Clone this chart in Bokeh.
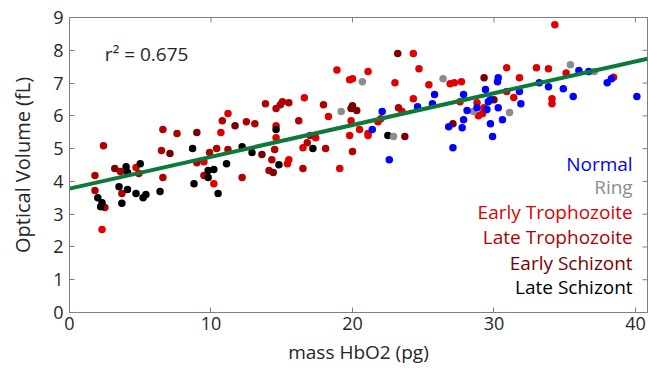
import math
from bokeh.plotting import figure
from bokeh.models import Range1d, FixedTicker, Label
from bokeh.embed import file_html
from bokeh.resources import INLINE

# ---- data ----
normal_x = [24.6, 25.8, 25.65, 22.1, 21.4, 26.8, 22.6, 30.3, 30.25, 36.0, 36.7, 38.3, 38.0, 40.1,
            33.2, 33.85, 34.9, 35.6, 31.8, 31.9, 29.4, 27.85, 28.1, 28.8, 29.5, 29.6, 29.75, 30.3,
            30.6, 29.75, 29.9, 27.85, 27.75, 27.1]
normal_y = [6.28, 6.65, 6.37, 6.13, 5.58, 5.67, 4.66, 7.16, 7.04, 7.38, 7.35, 7.13, 7.01, 6.59,
            7.01, 6.89, 6.83, 6.59, 6.74, 6.37, 6.80, 6.65, 6.16, 6.25, 6.19, 6.43, 6.49, 6.25,
            5.88, 5.76, 5.37, 5.88, 5.64, 5.03]

ring_x = [20.7, 26.4, 19.2, 22.9, 35.4, 37.1, 28.55, 31.1]
ring_y = [7.04, 7.13, 6.13, 5.37, 7.56, 7.35, 6.13, 6.10]

etroph_x = [9.5, 4.7, 10.2, 2.3, 16.6, 18.3, 11.2, 10.7, 14.6, 14.6, 17.4, 16.5, 15.5, 15.4,
            24.3, 24.7, 18.9, 21.1, 19.8, 20.0, 23.0, 25.4, 26.9, 24.3, 23.5, 19.9, 20.5, 19.8,
            21.1, 21.1, 21.8, 22.0, 19.1, 34.3, 27.2, 27.7, 30.9, 31.8, 33.0, 33.85, 35.1, 38.45,
            34.1, 34.1, 31.4, 30.9, 27.6, 28.8, 29.3, 28.9, 29.2]
etroph_y = [4.60, 4.42, 3.93, 2.53, 6.55, 5.98, 6.07, 5.49, 5.70, 5.33, 5.33, 5.03, 4.66, 4.54,
            7.90, 7.44, 7.40, 7.35, 7.10, 7.13, 7.01, 6.95, 6.98, 6.52, 6.13, 5.85, 5.58, 5.40,
            5.46, 5.40, 5.82, 5.91, 4.39, 8.78, 7.01, 7.04, 7.47, 7.16, 7.47, 7.44, 7.31, 7.18,
            6.52, 6.37, 6.56, 6.74, 6.43, 6.40, 6.25, 6.00, 6.07]

ltroph_x = [6.6, 7.6, 2.4, 6.5, 9.9, 9.0, 3.6, 4.9, 1.8, 6.6, 9.5, 3.7, 1.8, 2.5,
            13.85, 15.05, 14.9, 14.6, 15.5, 17.95, 10.8, 12.5, 13.1, 16.2, 17.0, 16.8, 18.1,
            10.4, 11.2, 14.5, 14.3, 16.5, 14.1, 12.2, 23.25, 20.0]
ltroph_y = [5.58, 5.46, 5.09, 4.94, 4.88, 4.57, 4.30, 4.24, 4.18, 4.12, 4.18, 3.63, 3.72, 3.20,
            6.37, 6.43, 6.34, 6.22, 6.40, 6.34, 5.85, 5.82, 5.76, 5.85, 5.40, 5.18, 5.00,
            5.00, 4.97, 4.97, 4.66, 4.39, 4.33, 4.12, 6.25, 4.91]

eschiz_x = [9.0, 7.1, 3.2, 11.7, 13.6, 14.4, 23.2, 19.9, 20.0, 20.3, 23.7, 29.3, 30.0, 27.1]
eschiz_y = [5.49, 4.85, 4.39, 5.70, 4.82, 4.27, 7.90, 6.22, 6.31, 6.16, 5.37, 7.16, 6.49, 5.76]

lschiz_x = [8.7, 5.0, 4.0, 4.1, 9.8, 10.2, 9.8, 8.8, 3.5, 4.1, 4.7, 5.4, 5.2, 6.4, 2.0, 2.3,
            2.2, 3.7, 10.5, 14.6, 17.2, 12.2, 12.9, 11.1, 14.8, 22.5]
lschiz_y = [5.00, 4.54, 4.45, 4.27, 4.33, 4.36, 4.12, 3.93, 3.84, 3.75, 3.63, 3.60, 3.50, 3.69,
            3.50, 3.35, 3.23, 3.33, 3.63, 5.58, 5.00, 5.06, 4.88, 4.54, 4.51, 5.40]

fit_x = [0.0, 40.85]
fit_intercept = 3.78
fit_slope = 0.097

categories = ["Normal", "Ring", "Early Trophozoite", "Late Trophozoite", "Early Schizont", "Late Schizont"]
cat_colors = ["#0000FF", "#8C8C8C", "#E00000", "#B00000", "#7A0000", "#000000"]

x_ticks = [0, 10, 20, 30, 40]
y_ticks = [0, 1, 2, 3, 4, 5, 6, 7, 8, 9]

X_MAX = 40.85
Y_MAX = 9
FONT = "Open Sans"
AX_COL = "#808080"

p = figure(width=648, height=370, output_backend="svg", toolbar_location=None,
           x_range=Range1d(0, X_MAX), y_range=Range1d(0, Y_MAX),
           min_border_left=69, min_border_right=1, min_border_top=17, min_border_bottom=58)
p.grid.visible = False
p.outline_line_color = AX_COL
p.outline_line_width = 1
p.background_fill_color = "white"
p.border_fill_color = "white"

for ax in (p.xaxis[0], p.yaxis[0]):
    ax.axis_line_color = AX_COL
    ax.major_tick_line_color = AX_COL
    ax.major_tick_in = 5
    ax.major_tick_out = 0
    ax.minor_tick_line_color = None
    ax.major_label_text_font = FONT
    ax.major_label_text_font_size = "18px"
    ax.major_label_text_color = "#262626"
    ax.axis_label_text_font = FONT
    ax.axis_label_text_font_style = "normal"
    ax.axis_label_text_color = "#262626"

p.xaxis[0].ticker = FixedTicker(ticks=x_ticks)
p.yaxis[0].ticker = FixedTicker(ticks=y_ticks)
p.xaxis[0].axis_label = "mass HbO2 (pg)"
p.yaxis[0].axis_label = "Optical Volume (fL)"
p.xaxis[0].axis_label_text_font_size = "19px"
p.yaxis[0].axis_label_text_font_size = "20px"
p.xaxis[0].major_label_standoff = 4
p.yaxis[0].major_label_standoff = 6
p.xaxis[0].axis_label_standoff = 6
p.yaxis[0].axis_label_standoff = 14

# inward tick marks on the top and right edges of the box (clipped to the frame)
p.scatter(x_ticks, [Y_MAX] * len(x_ticks), marker="dash", size=10, angle=math.pi / 2,
          line_color=AX_COL, line_width=1)
p.scatter([X_MAX] * len(y_ticks), y_ticks, marker="dash", size=10,
          line_color=AX_COL, line_width=1)

series = [(etroph_x, etroph_y, 2), (ltroph_x, ltroph_y, 3), (eschiz_x, eschiz_y, 4),
          (lschiz_x, lschiz_y, 5), (ring_x, ring_y, 1), (normal_x, normal_y, 0)]
for xs, ys, ci in series:
    p.scatter(xs, ys, size=7.5, marker="circle", fill_color=cat_colors[ci], line_color=None)

fit_y = [fit_intercept + fit_slope * v for v in fit_x]
p.line(fit_x, fit_y, line_color="#0B7A3B", line_width=4)

p.add_layout(Label(x=2.5, y=7.9, text="r² = 0.675", text_font=FONT, text_font_size="19px",
                   text_color="#262626", text_baseline="middle"))

leg_y = [4.54, 3.84, 3.06, 2.29, 1.52, 0.79]
for name, col, yy in zip(categories, cat_colors, leg_y):
    p.add_layout(Label(x=39.8, y=yy, text=name, text_font=FONT, text_font_size="19px",
                       text_color=col, text_align="right", text_baseline="middle"))

open("out.html", "w").write(file_html(p, INLINE))
